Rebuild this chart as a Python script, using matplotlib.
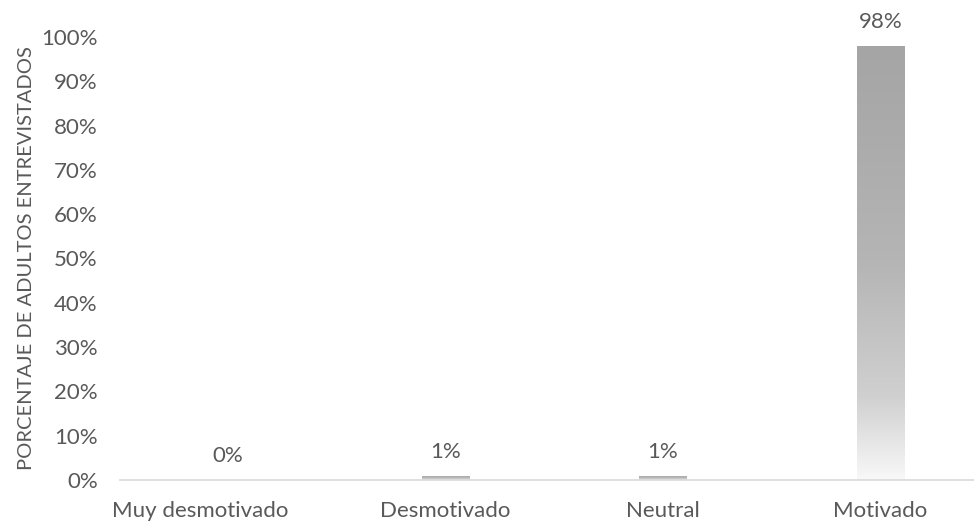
import numpy as np
import matplotlib
matplotlib.use("Agg")
import matplotlib.pyplot as plt
import matplotlib.transforms as mtransforms
from matplotlib.colors import LinearSegmentedColormap

categorias = ["Muy desmotivado", "Desmotivado", "Neutral", "Motivado"]
porcentajes = [0, 1, 1, 98]
etiquetas = ["0%", "1%", "1%", "98%"]
ticks_y = list(range(0, 101, 10))

plt.rcParams['font.family'] = ['Lato', 'DejaVu Sans']
gris = "#595959"

# gradiente de la barra: gris arriba, casi blanco abajo
grad = LinearSegmentedColormap.from_list("barra", [
    (0.0, "#a5a5a5"), (0.24, "#acacac"), (0.5, "#b5b5b5"),
    (0.81, "#d0d0d0"), (1.0, "#f8f8f8")])

fig = plt.figure(figsize=(9.74, 5.23), dpi=100)
ax = fig.add_axes([120/974, 43/523, 1 - 120/974, 443/523])

x = np.arange(len(categorias))
ancho = 0.22
barras = ax.bar(x, porcentajes, width=ancho, color="none", edgecolor="none")
img = np.linspace(0, 1, 256).reshape(-1, 1)
for b in barras:
    h = b.get_height()
    if h <= 0:
        continue
    x0 = b.get_x()
    im = ax.imshow(img, cmap=grad, aspect="auto", origin="upper",
                   extent=(x0, x0 + b.get_width(), 0, h), zorder=2)
    im.set_clip_path(b)

for xi, v, t in zip(x, porcentajes, etiquetas):
    ax.annotate(t, (xi, v), xytext=(0, 17), textcoords="offset points",
                ha="center", va="center", fontsize=16, color=gris)

ax.set_xlim(-0.497, 3.43)
ax.set_ylim(0, 100)
ax.set_yticks(ticks_y)
ax.set_yticklabels([f"{t}%" for t in ticks_y])
ax.set_xticks(x)
ax.set_xticklabels(categorias)
ax.tick_params(axis="both", length=0, labelsize=16, colors=gris)
ax.tick_params(axis="x", pad=15)
ax.tick_params(axis="y", pad=16)
for s in ["top", "right", "left"]:
    ax.spines[s].set_visible(False)
ax.spines["bottom"].set_color("#d9d9d9")
ax.spines["bottom"].set_linewidth(1.2)

# la primera etiqueta aparece algo desplazada a la izquierda
primera = ax.get_xticklabels()[0]
primera.set_transform(primera.get_transform() +
                      mtransforms.ScaledTranslation(-0.28, 0, fig.dpi_scale_trans))

ax.set_ylabel("PORCENTAJE DE ADULTOS ENTREVISTADOS", fontsize=14.5, color=gris)
ax.yaxis.set_label_coords(-85/854, 0.5)

fig.savefig("out.png", dpi=100)
